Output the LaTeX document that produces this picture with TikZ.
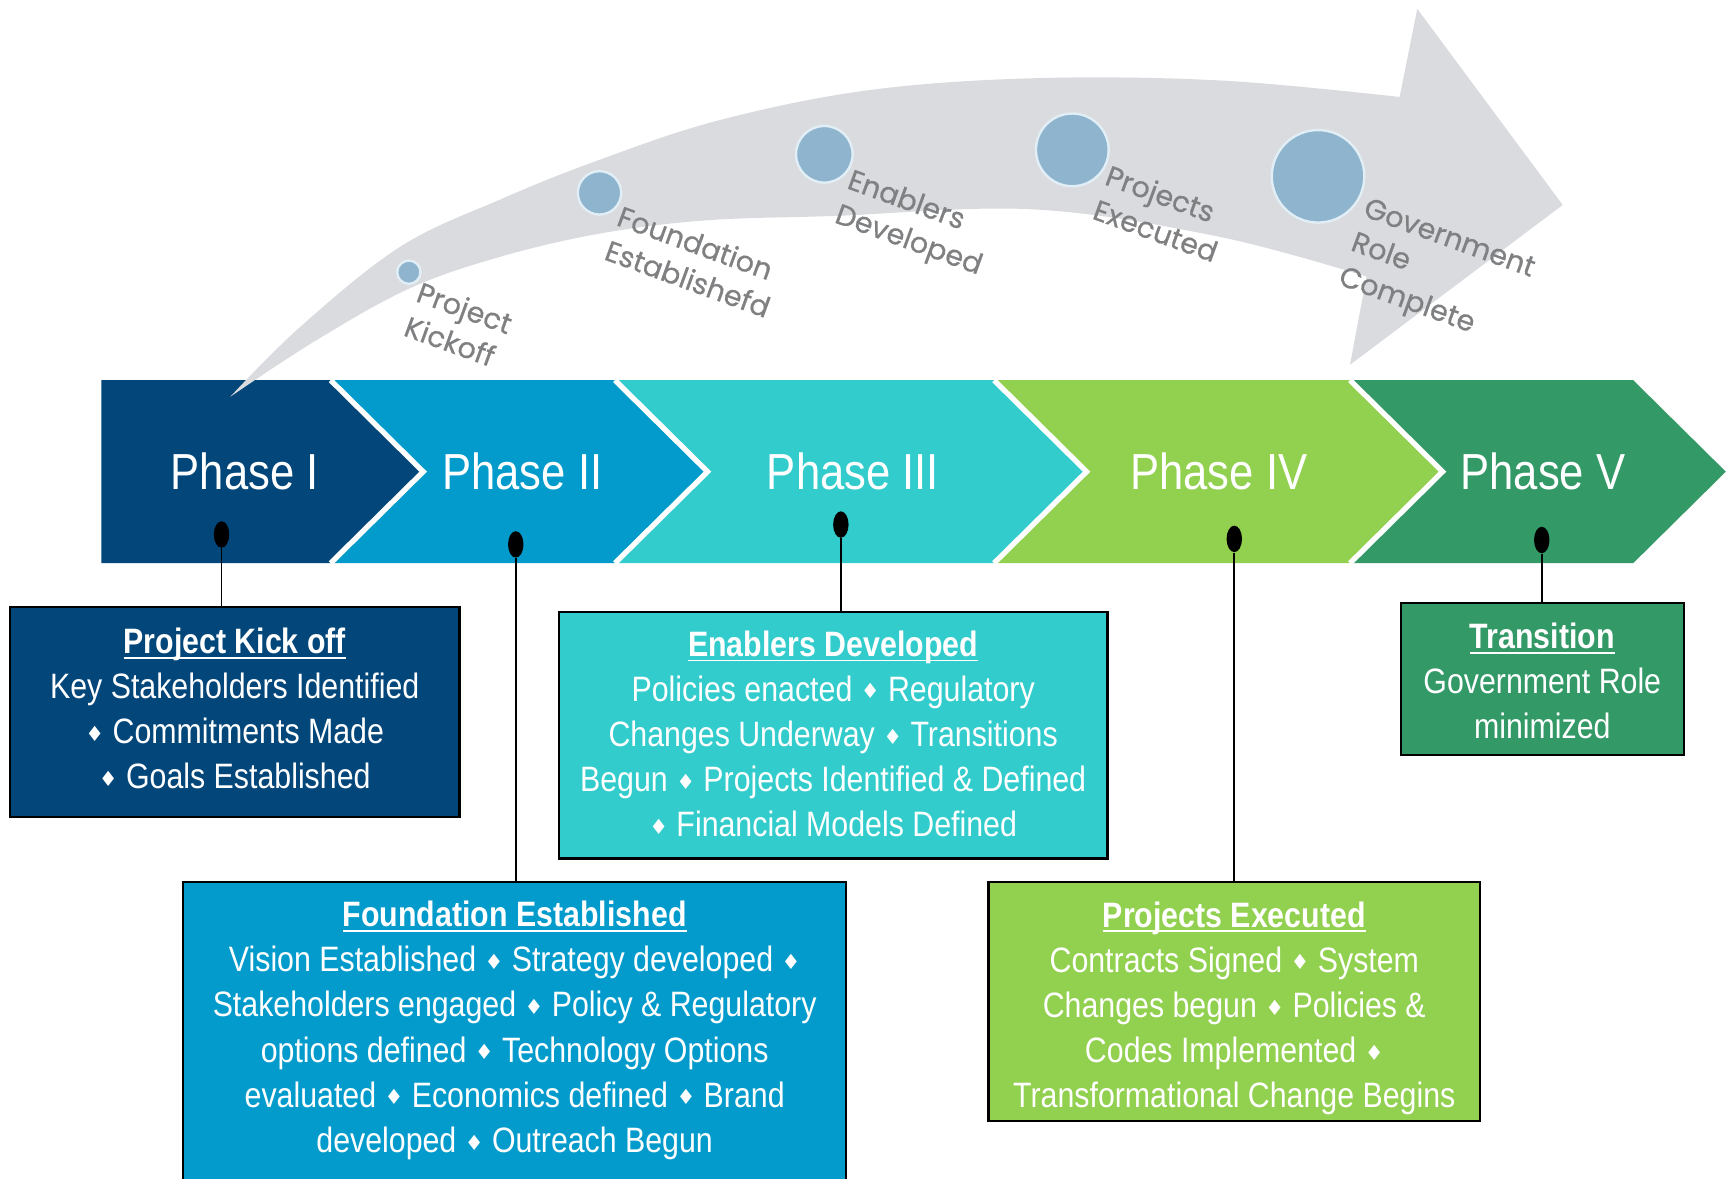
\documentclass[tikz,border=0pt]{standalone}
\usepackage{fontspec}
\setmainfont[FakeStretch=0.86]{Liberation Sans}
\newfontfamily\labelfont[FakeBold=0.6]{Poppins}
\newfontfamily\symfont{DejaVu Sans}
\usetikzlibrary{shapes.geometric}
\definecolor{navy}{HTML}{03467A}
\definecolor{phblue}{HTML}{029BCC}
\definecolor{phteal}{HTML}{33CCCC}
\definecolor{phlime}{HTML}{92D050}
\definecolor{phgreen}{HTML}{339966}
\definecolor{arrowgrey}{HTML}{D9DBDE}
\definecolor{dotblue}{HTML}{8EB4CE}
\definecolor{dotring}{HTML}{E2EEF6}
\definecolor{labelgrey}{HTML}{7F8082}
\newcommand\dm{{\symfont\fontsize{9.5}{9.5}\selectfont\raisebox{1.1pt}{♦}}}
\newcommand\ttl[1]{\setbox0\hbox{\bfseries #1}\rlap{\rule[-2.4pt]{\wd0}{0.9pt}}\box0}
\begin{document}
\begin{tikzpicture}[x=0.5pt,y=-0.5pt,
  phasetext/.style={text=white, font=\fontsize{23}{27}\selectfont, inner sep=0},
  box/.style={draw=black, line width=1pt, inner sep=0, outer sep=0},
  boxtext/.style={text=white, align=center, font=\fontsize{16}{20.5}\selectfont, inner sep=0},
  pindot/.style={ellipse, fill=black, minimum width=7pt, minimum height=12pt, inner sep=0},
  stem/.style={line width=0.85pt},
  milestone/.style={circle, fill=dotblue, draw=dotring, line width=1.1pt, inner sep=0},
  mlabel/.style={text=labelgrey, rotate=-20, anchor=north west, align=left, inner sep=0, font=\labelfont\fontsize{13}{16.5}\selectfont},
  sep/.style={white, line width=2.4pt}]
\useasboundingbox (0,0) rectangle (1568,1069);
\clip (0,0) rectangle (1568,1069);

% chevrons
\fill[navy] (92,345) -- (300,345) -- (384,428) -- (300,511) -- (92,511) -- cycle;
\fill[phblue] (300,345) -- (558,345) -- (642,428) -- (558,511) -- (300,511) -- (384,428) -- cycle;
\fill[phteal] (558,345) -- (902,345) -- (986,428) -- (902,511) -- (558,511) -- (642,428) -- cycle;
\fill[phlime] (902,345) -- (1225,345) -- (1309,428) -- (1225,511) -- (902,511) -- (986,428) -- cycle;
\fill[phgreen] (1225,345) -- (1482,345) -- (1566,428) -- (1482,511) -- (1225,511) -- (1309,428) -- cycle;
\draw[sep] (300,345) -- (384,428) -- (300,511);
\draw[sep] (558,345) -- (642,428) -- (558,511);
\draw[sep] (902,345) -- (986,428) -- (902,511);
\draw[sep] (1225,345) -- (1309,428) -- (1225,511);

\node[phasetext] (p1) at (222,428) {Phase I};
\node[phasetext] (p2) at (474,428) {Phase II};
\node[phasetext] (p3) at (774,428) {Phase III};
\node[phasetext] (p4) at (1106,428) {Phase IV};
\node[phasetext] (p5) at (1400,428) {Phase V};

% big grey arrow
\fill[arrowgrey] (209,360) -- plot[smooth, tension=0.6] coordinates {(209,360) (272,297) (363,224) (454,181) (544,145) (653,109) (787,82) (938,71) (1107,73) (1270,88)}
  -- (1286,8) -- (1418,186) -- (1225,331) -- (1240,251)
  -- plot[smooth, tension=0.6] coordinates {(1240,251) (1107,215) (938,190) (756,196) (640,200) (544,212) (454,233) (371,262) (285,310) (209,360)} -- cycle;

\node[milestone, minimum size=10.6pt] (m1) at (371,247) {};
\node[milestone, minimum size=19.7pt] (m2) at (544,175) {};
\node[milestone, minimum size=25.7pt] (m3) at (748,140) {};
\node[milestone, minimum size=33pt] (m4) at (973,136) {};
\node[milestone, minimum size=42pt] (m5) at (1196,160) {};

\node[mlabel] (l1) at (383,254) {Project\\Kickoff};
\node[mlabel] (l2) at (565,185) {Foundation\\Establishefd};
\node[mlabel] (l3) at (774,152) {Enablers\\Developed};
\node[mlabel] (l4) at (1008,148) {Projects\\Executed};
\node[mlabel] (l5) at (1242,178) {Government\\Role\\Complete};

% boxes
\node[box, fill=navy, minimum width=204pt, minimum height=95pt] (b1) at (213,646) {};
\node[boxtext] (t1) at (213,643) {\ttl{Project Kick off}\\Key Stakeholders Identified\\\dm\ Commitments Made\\\dm\ Goals Established};

\node[box, fill=phblue, minimum width=301pt, minimum height=145pt] (b2) at (467,945) {};
\node[boxtext] (t2) at (467,935) {\ttl{Foundation Established}\\Vision Established \dm\ Strategy developed \dm\\Stakeholders engaged \dm\ Policy \& Regulatory\\options defined \dm\ Technology Options\\evaluated \dm\ Economics defined \dm\ Brand\\developed \dm\ Outreach Begun};

\node[box, fill=phteal, minimum width=249pt, minimum height=112pt] (b3) at (756,667) {};
\node[boxtext] (t3) at (756,666) {\ttl{Enablers Developed}\\Policies enacted \dm\ Regulatory\\Changes Underway \dm\ Transitions\\Begun \dm\ Projects Identified \& Defined\\\dm\ Financial Models Defined};

\node[box, fill=phlime, minimum width=223pt, minimum height=108.5pt] (b4) at (1120,908.5) {};
\node[boxtext] (t4) at (1120,915) {\ttl{Projects Executed}\\Contracts Signed \dm\ System\\Changes begun \dm\ Policies \&\\Codes Implemented \dm\\Transformational Change Begins};

\node[box, fill=phgreen, minimum width=128.5pt, minimum height=69pt] (b5) at (1399.5,616) {};
\node[boxtext] (t5) at (1399.5,618) {\ttl{Transition}\\Government Role\\minimized};

% pins
\node[pindot] (d1) at (201,485) {};
\node[pindot] (d2) at (468,494) {};
\node[pindot] (d3) at (763,476) {};
\node[pindot] (d4) at (1120,489) {};
\node[pindot] (d5) at (1399,490) {};
\draw[stem] (d1.south) -- (d1.south |- b1.north);
\draw[stem] (d2.south) -- (d2.south |- b2.north);
\draw[stem] (d3.south) -- (d3.south |- b3.north);
\draw[stem] (d4.south) -- (d4.south |- b4.north);
\draw[stem] (d5.south) -- (d5.south |- b5.north);
\end{tikzpicture}
\end{document}
